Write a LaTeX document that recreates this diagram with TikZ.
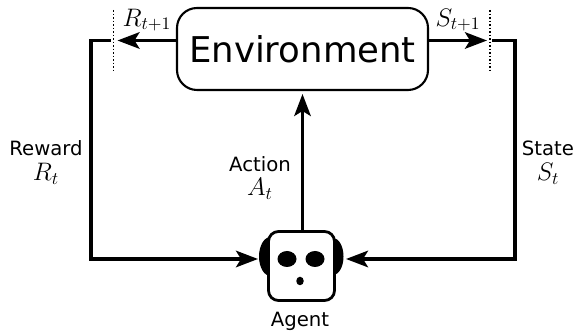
\documentclass[tikz,border=0pt]{standalone}
\usepackage{amsmath}
\usepackage{fontspec}
\setmainfont{DejaVu Sans}
\usetikzlibrary{arrows.meta, shapes.geometric}
\tikzset{
  flow/.style={line width=1.9pt, -{Stealth[length=0.44cm, width=0.33cm, inset=0.1cm]}},
  cut/.style={line width=1pt, densely dotted},
  lab/.style={align=center, font=\fontsize{11.2}{14}\selectfont, inner sep=0pt},
  sublab/.style={font=\Large, inner sep=0pt},
  blob/.style={ellipse, fill=black, inner sep=0pt}
}
\begin{document}
\begin{tikzpicture}
\useasboundingbox (0,0) rectangle (11.5,6.68);
\node[draw, line width=1.2pt, rounded corners=0.4cm, minimum width=5.02cm, minimum height=1.64cm, font=\fontsize{20.2}{24}\selectfont, inner sep=0pt](env) at (6.05,5.7) {Environment};
%
\node[blob, minimum width=0.46cm, minimum height=0.78cm](earl) at (5.41,1.55) {};
\node[blob, minimum width=0.42cm, minimum height=0.74cm](earr) at (6.66,1.55) {};
\node[draw, fill=white, line width=1.6pt, rounded corners=0.2cm, minimum width=1.32cm, minimum height=1.38cm, inner sep=0pt](agent) at (6.03,1.36) {};
\node[blob, minimum width=0.38cm, minimum height=0.32cm](eyel) at (5.74,1.5) {};
\node[blob, minimum width=0.38cm, minimum height=0.32cm](eyer) at (6.3,1.5) {};
\node[blob, minimum width=0.15cm, minimum height=0.17cm](mouth) at (6.0,1.06) {};
%
\coordinate(rtop) at (2.27,6.48);
\coordinate(rbot) at (2.27,5.26);
\coordinate(stop) at (9.8,6.48);
\coordinate(sbot) at (9.8,5.26);
\coordinate(rout) at (3.52,5.87);
\coordinate(rtip) at (2.35,5.87);
\coordinate(rin) at (2.21,5.87);
\coordinate(sout) at (8.58,5.87);
\coordinate(stip) at (9.74,5.87);
\coordinate(sin) at (9.84,5.87);
\coordinate(ltip) at (5.16,1.5);
\coordinate(rgttip) at (6.92,1.5);
\coordinate(atop) at (6.05,4.8);
\coordinate(abot) at (6.05,2.05);
%
\draw[cut](rtop) -- (rbot);
\draw[cut](stop) -- (sbot);
\draw[flow](rout) -- (rtip);
\draw[flow](sout) -- (stip);
\draw[flow](abot) -- (atop);
\draw[flow](rin) -- (1.82,5.87) -- (1.82,1.5) -- (ltip);
\draw[flow](sin) -- (10.3,5.87) -- (10.3,1.5) -- (rgttip);
%
\node[sublab](rnext) at (2.94,6.28) {$R_{t+1}$};
\node[sublab](snext) at (9.16,6.28) {$S_{t+1}$};
\node[lab](reward) at (0.92,3.72) {Reward};
\node[sublab](rnow) at (0.92,3.21) {$R_t$};
\node[lab](state) at (10.96,3.72) {State};
\node[sublab](snow) at (10.96,3.21) {$S_t$};
\node[lab](action) at (5.2,3.4) {Action};
\node[sublab](anow) at (5.2,2.9) {$A_t$};
\node[lab](name) at (6.0,0.26) {Agent};
\end{tikzpicture}
\end{document}
